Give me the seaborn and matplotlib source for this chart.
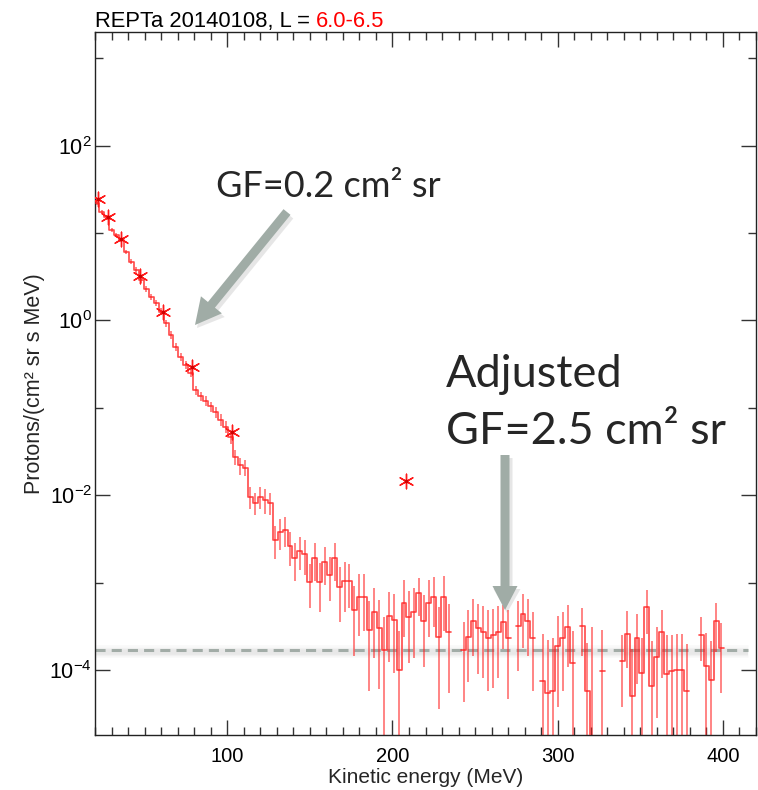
import numpy as np
import matplotlib
matplotlib.use("Agg")
import matplotlib.pyplot as plt
import seaborn as sns
from matplotlib.ticker import FixedLocator, MultipleLocator, LogFormatterMathtext, NullFormatter
from matplotlib.patches import FancyArrow
from matplotlib.transforms import IdentityTransform

# spectrum bins (MeV), 3 MeV wide
energy = np.arange(21, 400, 3)
nan = np.nan
flux = [22, 17.5, 15.2, 10.8, 9.5, 8.3, 6.1, 4.7, 3.8, 2.9,
        2.3, 1.87, 1.58, 1.26, 0.93, 0.68, 0.50, 0.385, 0.31, 0.25,
        0.16, 0.135, 0.12, 0.104, 0.09, 0.073, 0.061, 0.046, 0.0275, 0.022,
        0.0207, 0.0096, 0.0082, 0.0096, 0.0088, 0.0082, 0.0031, 0.0038, 0.0040, 0.0026,
        0.0019, 0.0023, 0.0021, 0.00102, 0.0019, 0.00101, 0.0017, 0.00122, 0.0019, 0.00088,
        0.00103, 0.00103, 0.00048, 0.00069, 0.00069, 0.00029, 0.00046, 0.00030, 0.000167, 0.00041,
        0.00037, 0.0001, 0.00059, 0.0004, 0.00046, 0.00075, 0.00036, 0.00059, 0.00068, 0.00024,
        0.00069, 0.00027, nan, nan, 0.00017, 0.00024, 0.00036, 0.00030, 0.00027, 0.00023,
        0.00025, 0.00027, 0.00035, 0.00023, nan, 0.00032, 0.00044, 0.00036, 0.00023, nan,
        7.4e-5, 5.5e-5, 5.8e-5, 0.00019, 0.00023, 0.00031, 0.00012, nan, 0.00032, 5.8e-5,
        1e-5, nan, 9.6e-5, nan, nan, nan, 0.000126, 0.00026, 5e-5, 0.00023,
        9.3e-5, 0.00052, 6.5e-5, 0.00014, 0.00027, 8.9e-5, 9.6e-5, 0.0001, 0.0001, 5.7e-5,
        nan, nan, 0.00025, 0.00011, 7.7e-5, 0.00036, 0.00018]

# relative error bar sizes (fraction of flux)
err_up = [0.05, 0.05, 0.06, 0.05, 0.06, 0.06, 0.06, 0.07, 0.07, 0.07,
          0.08, 0.08, 0.08, 0.09, 0.09, 0.1, 0.1, 0.1, 0.11, 0.11,
          0.12, 0.12, 0.13, 0.13, 0.14, 0.15, 0.16, 0.17, 0.2, 0.22,
          0.22, 0.3, 0.3, 0.3, 0.32, 0.3, 0.45, 0.42, 0.4, 0.45,
          0.5, 0.45, 0.48, 0.6, 0.5, 0.65, 0.5, 0.6, 0.5, 0.7,
          0.65, 0.6, 0.9, 0.8, 0.8, 1.1, 0.9, 1.1, 1.4, 0.9,
          1.0, 1.8, 0.8, 1.0, 0.9, 0.5, 1.0, 0.8, 0.7, 1.2,
          0.7, 1.1, 0, 0, 1.1, 1.0, 0.8, 0.9, 1.0, 1.1,
          1.0, 1.0, 0.6, 1.1, 0, 0.9, 0.7, 0.8, 1.0, 0,
          2.5, 3.0, 3.0, 1.2, 1.0, 0.8, 1.3, 0, 0.6, 2.5,
          30, 0, 2.0, 0, 0, 0, 1.0, 0.8, 2.5, 0.9,
          1.5, 0.6, 2.3, 1.2, 0.8, 1.8, 1.6, 1.6, 1.6, 2.5,
          0, 0, 0.6, 1.4, 1.8, 0.6, 0.9]
err_dn = [0.05, 0.05, 0.06, 0.05, 0.06, 0.06, 0.06, 0.07, 0.07, 0.07,
          0.08, 0.08, 0.08, 0.09, 0.09, 0.1, 0.1, 0.1, 0.11, 0.11,
          0.12, 0.12, 0.13, 0.13, 0.14, 0.15, 0.16, 0.17, 0.2, 0.22,
          0.2, 0.28, 0.28, 0.28, 0.3, 0.28, 0.4, 0.38, 0.36, 0.4,
          0.45, 0.4, 0.42, 0.5, 0.45, 0.55, 0.45, 0.5, 0.45, 0.6,
          0.55, 0.5, 0.7, 0.65, 0.6, 0.8, 0.7, 0.8, 1.0, 0.7,
          0.75, 1.0, 0.6, 0.7, 0.7, 0.45, 0.7, 0.6, 0.55, 0.85,
          0.6, 0.8, 0, 0, 0.75, 0.7, 0.6, 0.7, 0.7, 0.75,
          0.75, 0.7, 0.5, 0.8, 0, 0.7, 0.6, 0.6, 0.75, 0,
          1.0, 1.0, 1.0, 0.8, 0.75, 0.65, 1.0, 0, 0.55, 1.0,
          1.0, 0, 1.0, 0, 0, 0, 0.7, 0.6, 1.0, 0.7,
          1.0, 0.5, 1.0, 0.8, 0.7, 1.0, 1.0, 1.0, 1.0, 1.0,
          0, 0, 0.5, 1.0, 1.0, 0.55, 0.7]

# asterisk points (low-GF channel)
star_energy = [22, 28, 36, 47, 61, 79, 103, 208]
star_flux = [24.5, 15.2, 8.5, 3.2, 1.25, 0.295, 0.053, 0.0147]

background = 1.7e-4

sns.set_theme(style="ticks")
plt.rcParams['font.family'] = ['Liberation Sans', 'DejaVu Sans']
plt.rcParams['mathtext.fontset'] = 'custom'
plt.rcParams['mathtext.rm'] = 'Liberation Sans'

W, H = 758, 790
fig = plt.figure(figsize=(W / 100, H / 100), dpi=100)
ax = fig.add_axes([95 / W, 55 / H, 661 / W, 703 / H])

flux_a = np.array(flux, dtype=float)
up = np.array(err_up)
dn = np.array(err_dn)
edges = np.append(energy - 1.5, energy[-1] + 1.5)

# error bars
hi = flux_a * (1 + up)
lo = flux_a * (1 - dn)
lo[lo <= 0] = 1e-7
ok = ~np.isnan(flux_a)
ax.vlines(energy[ok], lo[ok], hi[ok], colors='#ff2020', lw=1.4, alpha=0.55, zorder=2)

# stepped spectrum
ax.step(edges, np.append(flux_a, flux_a[-1]), where='post', color='#ff1a1a',
        lw=1.2, alpha=0.8, zorder=3)

# asterisks
sns.scatterplot(x=star_energy, y=star_flux, marker=(6, 2, 0), s=110, color='#ff1a1a',
                linewidth=1.0, ax=ax, zorder=4, legend=False)
sns.scatterplot(x=star_energy, y=star_flux, marker='o', s=8, color='#d00000',
                linewidth=0, ax=ax, zorder=5, legend=False)

# background level with a soft shadow
for off, lw, a in [(0.97, 9, 0.05), (0.95, 6, 0.07), (0.94, 4, 0.08)]:
    ax.hlines(background * off, 20, 415, colors='#8a8a8a', lw=lw, alpha=a, zorder=1)
ax.hlines(background, 20, 415, colors='#a2aca7', lw=2.2, linestyles=(0, (3.3, 2.0)), zorder=1)

ax.set_yscale('log')
ax.set_xlim(20, 420)
ax.set_ylim(1.8e-5, 2000)
ax.yaxis.set_major_locator(FixedLocator([1e-4, 1e-2, 1, 1e2]))
ax.yaxis.set_minor_locator(FixedLocator([1e-3, 1e-1, 10, 1e3]))
ax.yaxis.set_major_formatter(LogFormatterMathtext())
ax.yaxis.set_minor_formatter(NullFormatter())
ax.xaxis.set_major_locator(MultipleLocator(100))
ax.xaxis.set_minor_locator(MultipleLocator(10))

ax.tick_params(which='both', direction='in', top=True, right=True, color='#333333',
               width=1.0, labelcolor='black')
ax.tick_params(which='major', length=11)
ax.tick_params(which='minor', length=5.5)
ax.tick_params(axis='x', pad=9, labelsize=14.5)
ax.tick_params(axis='y', pad=2, labelsize=15.5)
for s in ax.spines.values():
    s.set_color('#222222')
    s.set_linewidth(1.0)

ax.set_xlabel('Kinetic energy (MeV)', fontsize=15, labelpad=1)
ax.set_ylabel('Protons/(cm² sr s MeV)', fontsize=15.5)
ax.yaxis.set_label_coords(-0.076, 0.5)

# title with red L range
t1 = fig.text(95 / W, 1 - 27 / H, 'REPTa 20140108, L = ', fontsize=15.8, color='black',
              va='baseline', ha='left')
fig.canvas.draw()
bb = t1.get_window_extent()
fig.text(bb.x1 / W, 1 - 27 / H, '6.0-6.5', fontsize=15.8, color='red', va='baseline', ha='left')

# slide-style annotations
arrow_col = '#a0aca6'
def arrow(x0, y0, x1, y1, w, hw, hl):
    # coordinates in image pixels (y downward)
    X0, Y0, X1, Y1 = x0, H - y0, x1, H - y1
    sh = FancyArrow(X0 + 2, Y0 - 3, X1 - X0, Y1 - Y0, width=w + 2, head_width=hw + 2,
                    head_length=hl, length_includes_head=True, transform=IdentityTransform(),
                    color='#777777', alpha=0.18, lw=0)
    fig.patches.append(sh)
    ar = FancyArrow(X0, Y0, X1 - X0, Y1 - Y0, width=w, head_width=hw, head_length=hl,
                    length_includes_head=True, transform=IdentityTransform(),
                    color=arrow_col, lw=0)
    fig.patches.append(ar)

arrow(287, 212, 195, 325, 9, 27, 26)
arrow(505, 455, 505, 610, 9, 25, 24)

txt_kw = dict(family=['Lato', 'DejaVu Sans'], color='#262626', va='baseline', ha='left')
fig.text(216 / W, 1 - 197 / H, 'GF=0.2 cm² sr', fontsize=26, **txt_kw)
fig.text(446 / W, 1 - 387 / H, 'Adjusted', fontsize=32.5, **txt_kw)
fig.text(446 / W, 1 - 444 / H, 'GF=2.5 cm² sr', fontsize=32.5, **txt_kw)

fig.savefig('out.png', dpi=100)
